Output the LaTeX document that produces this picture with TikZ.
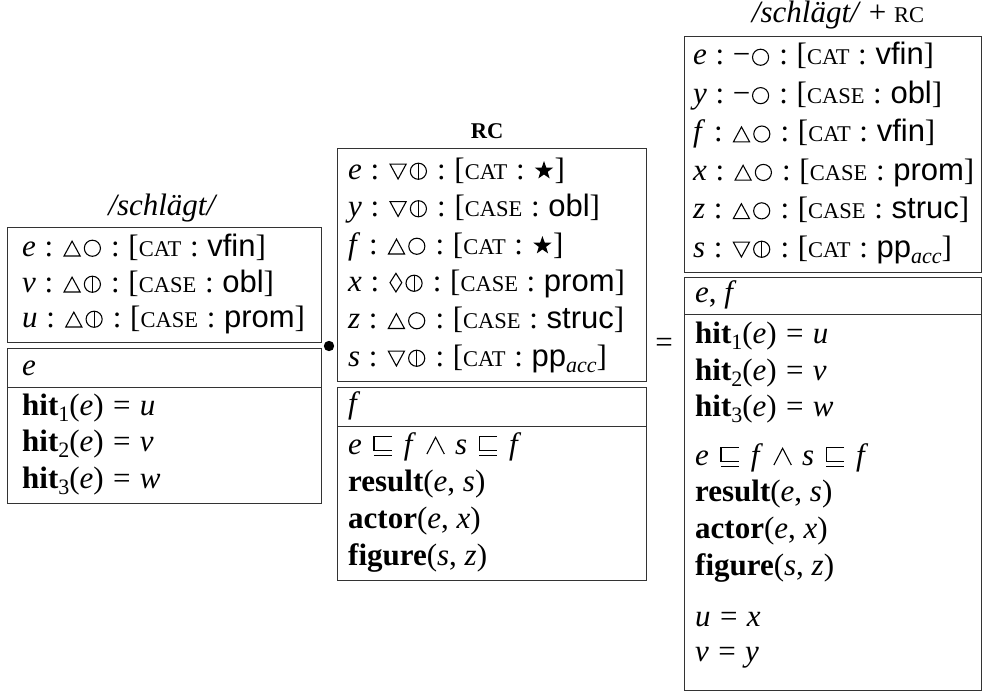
\documentclass[tikz,border=0pt]{standalone}
\usepackage{fontspec}
\setmainfont{Liberation Serif}
\setsansfont{Liberation Sans}

\newcommand\SC[1]{{\fontsize{22.5}{23}\selectfont #1}}
\newcommand\CAT{\SC{CAT}}
\newcommand\CASE{\SC{CASE}}
\newcommand\vi[1]{\textit{#1}}
\newcommand\cl{\hspace{0.28em}:\hspace{0.28em}}
\newcommand\eqs{\hspace{0.3em}=\hspace{0.3em}}
\newcommand\sub[1]{\raisebox{-0.22em}{\fontsize{22}{22}\selectfont #1}}
\newcommand\symbox[1]{\hspace{0.05em}\tikz[baseline=0pt,x=1em,y=1em,line width=0.035em,line join=miter]{#1}\hspace{0.05em}}
\newcommand\Tup{\symbox{\draw (0,0) -- (0.52,0) -- (0.26,0.48) -- cycle;}}
\newcommand\Tdn{\symbox{\draw (0,0.48) -- (0.52,0.48) -- (0.26,0) -- cycle;}}
\newcommand\Loz{\symbox{\draw (0.19,-0.03) -- (0.38,0.27) -- (0.19,0.57) -- (0,0.27) -- cycle;}}
\newcommand\Cir{\symbox{\draw (0.27,0.25) circle (0.26);}}
\newcommand\Cbar{\symbox{\draw (0.27,0.25) circle (0.26); \draw (0.27,-0.01) -- (0.27,0.51);}}
\newcommand\Star{\symbox{\fill[shift={(0.3,0.27)}] (90:0.31) -- (126:0.125) -- (162:0.31) -- (198:0.125) -- (234:0.31) -- (270:0.125) -- (306:0.31) -- (342:0.125) -- (18:0.31) -- (54:0.125) -- cycle;}}
\newcommand\Sqs{\hspace{0.32em}\symbox{\draw (0.62,0.56) -- (0.04,0.56) -- (0.04,0.1) -- (0.62,0.1); \draw (0.04,-0.05) -- (0.62,-0.05);}\hspace{0.32em}}
\newcommand\Wdg{\hspace{0.28em}\symbox{\draw (0,0) -- (0.28,0.54) -- (0.56,0);}\hspace{0.28em}}
\newcommand\Mns{−}
\newcommand\ppacc{\textsf{pp}\sub{\textit{acc}}}

\tikzset{
  row/.style={anchor=base west, inner sep=0pt, font=\fontsize{31}{37}\selectfont},
  ttl/.style={anchor=center, inner sep=0pt, font=\fontsize{31}{37}\selectfont},
  box/.style={draw=black!80, line width=1pt},
}

\begin{document}
\begin{tikzpicture}[x=1pt,y=-1pt]
\useasboundingbox (0,0) rectangle (982,693);

% ---------- left: /schlägt/ ----------
\node[ttl] (lt) at (163,208) {\textit{/schlägt/}};
\draw[box] (7,227) rectangle (321,342);
\node[row] (l1) at (22,256) {\vi{e}\cl\Tup\Cir\cl[\CAT\cl\textsf{vfin}]};
\node[row] (l2) at (22,292) {\vi{v}\cl\Tup\Cbar\cl[\CASE\cl\textsf{obl}]};
\node[row] (l3) at (22,327) {\vi{u}\cl\Tup\Cbar\cl[\CASE\cl\textsf{prom}]};
\draw[box] (7,348) rectangle (321,503);
\draw[box] (7,387) -- (321,387);
\node[row] (l4) at (22,375) {\vi{e}};
\node[row] (l5) at (22,415) {\textbf{hit}\sub{1}(\vi{e})\eqs\vi{u}};
\node[row] (l6) at (22,451) {\textbf{hit}\sub{2}(\vi{e})\eqs\vi{v}};
\node[row] (l7) at (22,488) {\textbf{hit}\sub{3}(\vi{e})\eqs\vi{w}};

% bullet
\fill[black] (329,346) circle (5.2);

% ---------- middle: RC ----------
\node[ttl] (mt) at (487,131) {\textbf{\SC{RC}}};
\draw[box] (337,148) rectangle (646,381);
\node[row] (m1) at (348,179) {\vi{e}\cl\Tdn\Cbar\cl[\CAT\cl\Star]};
\node[row] (m2) at (348,216.5) {\vi{y}\cl\Tdn\Cbar\cl[\CASE\cl\textsf{obl}]};
\node[row] (m3) at (348,254) {\vi{f}\cl\Tup\Cir\cl[\CAT\cl\Star]};
\node[row] (m4) at (348,291) {\vi{x}\cl\Loz\Cbar\cl[\CASE\cl\textsf{prom}]};
\node[row] (m5) at (348,328.5) {\vi{z}\cl\Tup\Cir\cl[\CASE\cl\textsf{struc}]};
\node[row] (m6) at (348,366) {\vi{s}\cl\Tdn\Cbar\cl[\CAT\cl\ppacc]};
\draw[box] (337,387) rectangle (646,580);
\draw[box] (337,426) -- (646,426);
\node[row] (m7) at (348,413) {\vi{f}};
\node[row] (m8) at (348,454) {\vi{e}\Sqs\vi{f}\Wdg\vi{s}\Sqs\vi{f}};
\node[row] (m9) at (348,491) {\textbf{result}(\vi{e}, \vi{s})};
\node[row] (m10) at (348,528) {\textbf{actor}(\vi{e}, \vi{x})};
\node[row] (m11) at (348,565) {\textbf{figure}(\vi{s}, \vi{z})};

% equals
\node[ttl] (eq) at (664,345) {=};

% ---------- right: /schlägt/ + RC ----------
\node[ttl] (rt) at (838,15) {\textit{/schlägt/} + \SC{RC}};
\draw[box] (684,37) rectangle (981,272);
\node[row] (r1) at (693,65) {\vi{e}\cl\Mns\Cir\cl[\CAT\cl\textsf{vfin}]};
\node[row] (r2) at (693,103.4) {\vi{y}\cl\Mns\Cir\cl[\CASE\cl\textsf{obl}]};
\node[row] (r3) at (693,141.8) {\vi{f}\cl\Tup\Cir\cl[\CAT\cl\textsf{vfin}]};
\node[row] (r4) at (693,180.2) {\vi{x}\cl\Tup\Cir\cl[\CASE\cl\textsf{prom}]};
\node[row] (r5) at (693,218.6) {\vi{z}\cl\Tup\Cir\cl[\CASE\cl\textsf{struc}]};
\node[row] (r6) at (693,257) {\vi{s}\cl\Tdn\Cbar\cl[\CAT\cl\ppacc]};
\draw[box] (684,277) rectangle (981,690);
\draw[box] (684,314) -- (981,314);
\node[row] (r7) at (695,302) {\vi{e}, \vi{f}};
\node[row] (r8) at (695,343) {\textbf{hit}\sub{1}(\vi{e})\eqs\vi{u}};
\node[row] (r9) at (695,380) {\textbf{hit}\sub{2}(\vi{e})\eqs\vi{v}};
\node[row] (r10) at (695,416) {\textbf{hit}\sub{3}(\vi{e})\eqs\vi{w}};
\node[row] (r11) at (695,465) {\vi{e}\Sqs\vi{f}\Wdg\vi{s}\Sqs\vi{f}};
\node[row] (r12) at (695,501) {\textbf{result}(\vi{e}, \vi{s})};
\node[row] (r13) at (695,538) {\textbf{actor}(\vi{e}, \vi{x})};
\node[row] (r14) at (695,575) {\textbf{figure}(\vi{s}, \vi{z})};
\node[row] (r15) at (695,626) {\vi{u}\eqs\vi{x}};
\node[row] (r16) at (695,661) {\vi{v}\eqs\vi{y}};
\end{tikzpicture}
\end{document}
